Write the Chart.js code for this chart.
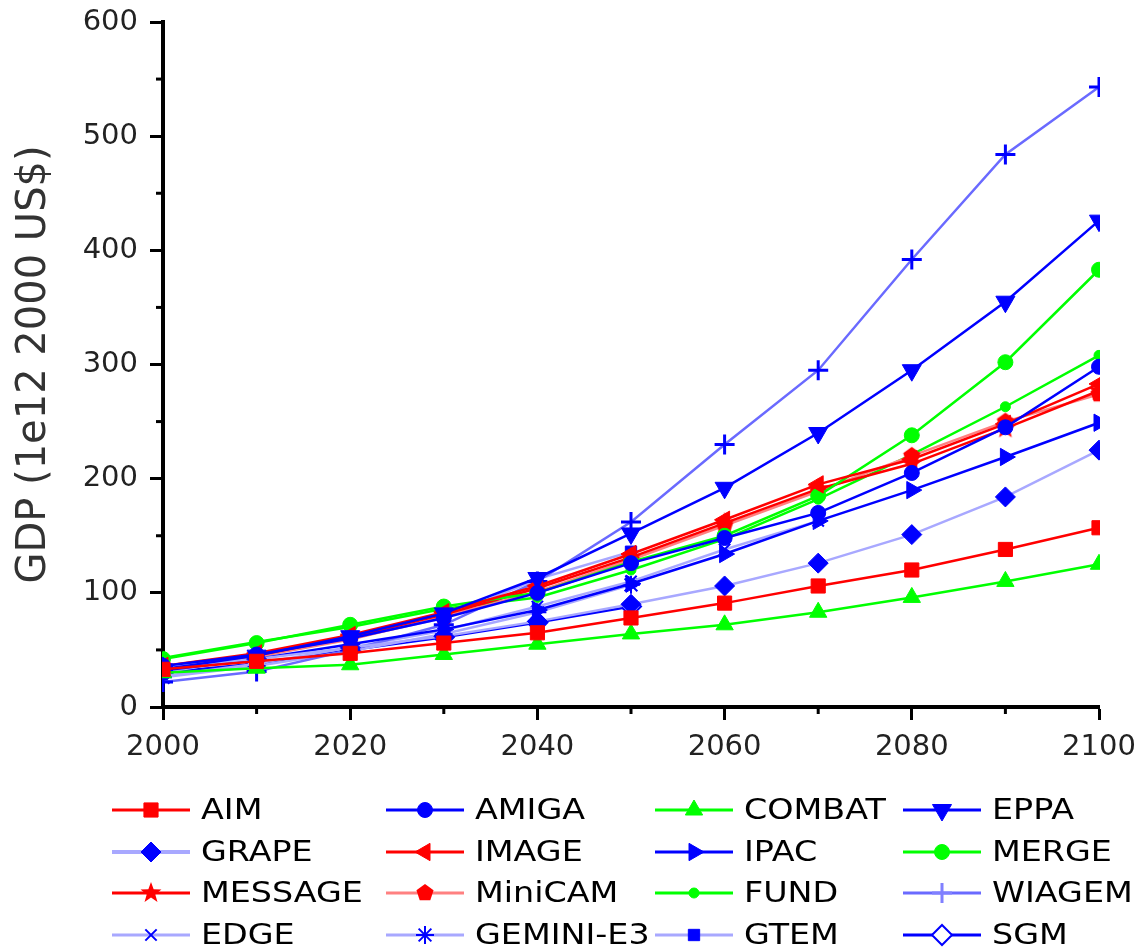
<!DOCTYPE html>
<html>
<head>
<meta charset="utf-8">
<script src="https://cdn.jsdelivr.net/npm/chart.js@4.4.1/dist/chart.umd.min.js"></script>
<style>
  html, body { margin: 0; padding: 0; background: #fff; }
  #wrap { width: 1137px; height: 950px; }
</style>
</head>
<body>
<div id="wrap"><canvas id="graphGdp" width="1137" height="950"></canvas></div>
<script>
// years on the x axis
var years = [2000, 2010, 2020, 2030, 2040, 2050, 2060, 2070, 2080, 2090, 2100];

// tick values
var xTickValues = [2000, 2020, 2040, 2060, 2080, 2100];
var xMinorTicks = [2010, 2030, 2050, 2070, 2090];
var yTickValues = [0, 100, 200, 300, 400, 500, 600];
var yMinorTicks = [50, 150, 250, 350, 450, 550];

var models = ['AIM', 'AMIGA', 'COMBAT', 'EPPA', 'GRAPE', 'IMAGE', 'IPAC', 'MERGE',
  'MESSAGE', 'MiniCAM', 'FUND', 'WIAGEM', 'EDGE', 'GEMINI-E3', 'GTEM', 'SGM'];

// GDP (1e12 2000 US$)
var gdpAIM     = [33, 40, 47, 56, 65, 78, 91, 106, 120, 138, 157];
var gdpAMIGA   = [36, 46, 60, 78, 100, 126, 148, 170, 205, 245, 298];
var gdpCOMBAT  = [30, 34, 37, 46, 55, 64, 72, 83, 96, 110, 125];
var gdpEPPA    = [33, 45, 62, 82, 113, 152, 192, 240, 295, 355, 426];
var gdpGRAPE   = [35, 42, 52, 62, 75, 90, 106, 126, 151, 184, 225];
var gdpIMAGE   = [36, 47, 63, 83, 106, 134, 164, 195, 217, 248, 283];
var gdpIPAC    = [32, 42, 55, 68, 85, 108, 134, 163, 190, 219, 249];
var gdpMERGE   = [42, 56, 72, 88, 100, 127, 150, 185, 238, 302, 383];
var gdpMESSAGE = [34, 45, 61, 81, 104, 131, 161, 191, 213, 244, 277];
var gdpMiniCAM = [33, 44, 59, 79, 101, 129, 159, 189, 220, 250, 274];
var gdpFUND    = [43, 57, 70, 86, 96, 120, 147, 182, 221, 263, 308];
var gdpWIAGEM  = [22, 31, 50, 72, 110, 162, 230, 295, 392, 484, 543];
var gdpEDGE    = [27, 38, 52, 67, 88, 110, 138, 163];
var gdpGEMINI  = [26, 36, 49, 64, 83, 107];
var gdpGTEM    = [30, 44, 60, 78, 112, 136];
var gdpSGM     = [30, 38, 50, 61, 74, 88];

var gdpValues = [gdpAIM, gdpAMIGA, gdpCOMBAT, gdpEPPA, gdpGRAPE, gdpIMAGE, gdpIPAC, gdpMERGE,
  gdpMESSAGE, gdpMiniCAM, gdpFUND, gdpWIAGEM, gdpEDGE, gdpGEMINI, gdpGTEM, gdpSGM];

// small canvas markers for shapes chart.js does not have
function makeMarker(kind, color) {
  var c = document.createElement('canvas');
  c.width = 22; c.height = 22;
  var g = c.getContext('2d');
  g.fillStyle = color;
  g.beginPath();
  if (kind === 'star') {
    for (var i = 0; i < 10; i++) {
      var r = i % 2 === 0 ? 11 : 4.5;
      var a = -Math.PI / 2 + i * Math.PI / 5;
      g.lineTo(11 + r * Math.cos(a), 11 + r * Math.sin(a));
    }
  } else {
    for (var j = 0; j < 5; j++) {
      var b = -Math.PI / 2 + j * 2 * Math.PI / 5;
      g.lineTo(11 + 9 * Math.cos(b), 11 + 9 * Math.sin(b));
    }
  }
  g.closePath();
  g.fill();
  return c;
}
var starRed = makeMarker('star', '#ff0000');
var pentRed = makeMarker('pentagon', '#ff0000');

var styles = [
  {line: '#ff0000', point: '#ff0000', shape: 'rect', r: 10},
  {line: '#0000ff', point: '#0000ff', shape: 'circle', r: 7.5},
  {line: '#00ff00', point: '#00ff00', shape: 'triangle', r: 10},
  {line: '#0000ff', point: '#0000ff', shape: 'triangle', r: 11, rot: 180},
  {line: '#a8a8ff', point: '#0000ff', shape: 'rectRot', r: 10, lw: 4},
  {line: '#ff0000', point: '#ff0000', shape: 'triangle', r: 10, rot: -90},
  {line: '#0000ff', point: '#0000ff', shape: 'triangle', r: 10, rot: 90},
  {line: '#00ff00', point: '#00ff00', shape: 'circle', r: 7.5},
  {line: '#ff0000', point: '#ff0000', shape: starRed, r: 10},
  {line: '#ff8080', point: '#ff0000', shape: pentRed, r: 10},
  {line: '#00ff00', point: '#00ff00', shape: 'circle', r: 5},
  {line: '#6a6aff', point: '#0000ff', shape: 'cross', r: 10, bw: 3, legendPoint: '#8080ff'},
  {line: '#a8a8ff', point: '#0000ff', shape: 'crossRot', r: 8, bw: 2},
  {line: '#a8a8ff', point: '#0000ff', shape: 'star', r: 9, bw: 2},
  {line: '#a8a8ff', point: '#0000ff', shape: 'rect', r: 8},
  {line: '#0000ff', point: '#0000ff', shape: 'rectRot', r: 10, bw: 2, fill: '#ffffff'}
];

var datasets = models.map(function (name, i) {
  var s = styles[i];
  return {
    label: name,
    data: gdpValues[i].map(function (v, k) { return {x: years[k], y: v}; }),
    borderColor: s.line,
    borderWidth: 2.5,
    pointStyle: s.shape,
    pointRotation: s.rot || 0,
    pointRadius: s.r,
    pointBackgroundColor: s.fill || s.point,
    pointBorderColor: s.point,
    pointBorderWidth: s.bw || 1,
    legendLineWidth: s.lw || 3,
    legendPointColor: s.legendPoint || s.point,
    clip: 1,
    fill: false,
    tension: 0
  };
});

// minor ticks on both axes
var minorTicks = {
  id: 'minorTicks',
  afterDraw: function (chart) {
    var ctx = chart.ctx, area = chart.chartArea;
    ctx.save();
    ctx.strokeStyle = '#000';
    ctx.lineWidth = 3;
    yMinorTicks.forEach(function (v) {
      var py = chart.scales.y.getPixelForValue(v);
      ctx.beginPath(); ctx.moveTo(area.left - 7, py); ctx.lineTo(area.left, py); ctx.stroke();
    });
    xMinorTicks.forEach(function (v) {
      var px = chart.scales.x.getPixelForValue(v);
      ctx.beginPath(); ctx.moveTo(px, area.bottom); ctx.lineTo(px, area.bottom + 7); ctx.stroke();
    });
    ctx.restore();
  }
};

// legend laid out as a 4 x 4 grid
var gridLegend = {
  id: 'gridLegend',
  afterDraw: function (chart) {
    var ctx = chart.ctx;
    var colX = [112, 386, 655, 903];
    var rowY = [810, 852, 893, 935];
    chart.data.datasets.forEach(function (ds, i) {
      var x = colX[i % 4], y = rowY[Math.floor(i / 4)];
      ctx.save();
      ctx.strokeStyle = ds.borderColor;
      ctx.lineWidth = ds.legendLineWidth;
      ctx.beginPath(); ctx.moveTo(x, y); ctx.lineTo(x + 78, y); ctx.stroke();
      ctx.fillStyle = ds.pointBackgroundColor;
      ctx.strokeStyle = ds.legendPointColor;
      if (ds.pointBackgroundColor !== '#ffffff') ctx.fillStyle = ds.legendPointColor;
      ctx.lineWidth = ds.pointBorderWidth;
      Chart.helpers.drawPoint(ctx, {
        pointStyle: ds.pointStyle, rotation: ds.pointRotation,
        radius: ds.pointRadius, borderWidth: ds.pointBorderWidth
      }, x + 39, y);
      ctx.translate(x + 89, y);
      ctx.scale(1.15, 1);
      ctx.fillStyle = '#000';
      ctx.font = '29px "DejaVu Sans"';
      ctx.textBaseline = 'middle';
      ctx.fillText(ds.label, 0, 1);
      ctx.restore();
    });
  }
};

var ctx = document.getElementById('graphGdp');
new Chart(ctx, {
  type: 'line',
  data: { datasets: datasets },
  plugins: [minorTicks, gridLegend],
  options: {
    responsive: false,
    animation: false,
    events: [],
    layout: { padding: { top: 22, right: 38, left: 0, bottom: 0 } },
    plugins: { legend: { display: false }, tooltip: { enabled: false } },
    scales: {
      x: {
        type: 'linear',
        min: 2000,
        max: 2100,
        afterBuildTicks: function (scale) {
          scale.ticks = xTickValues.map(function (v) { return {value: v}; });
        },
        afterFit: function (scale) {
          scale.height = 243;
          scale.paddingLeft = 0;
          scale.paddingRight = 0;
        },
        border: { display: true, color: '#000', width: 4 },
        grid: { drawOnChartArea: false, drawTicks: true, tickLength: 13, tickWidth: 3, tickColor: '#000' },
        ticks: {
          color: '#222',
          font: { family: '"DejaVu Sans"', size: 29 },
          padding: 10,
          maxRotation: 0,
          callback: function (v) { return String(v); }
        }
      },
      y: {
        min: 0,
        max: 600,
        afterBuildTicks: function (scale) {
          scale.ticks = yTickValues.map(function (v) { return {value: v}; });
        },
        afterFit: function (scale) {
          scale.width = 163;
          scale.paddingTop = 0;
          scale.paddingBottom = 0;
        },
        border: { display: true, color: '#000', width: 4 },
        grid: { drawOnChartArea: false, drawTicks: true, tickLength: 13, tickWidth: 3, tickColor: '#000' },
        ticks: {
          color: '#222',
          font: { family: '"DejaVu Sans"', size: 29 },
          padding: 12
        },
        title: {
          display: true,
          text: 'GDP (1e12 2000 US$)',
          color: '#333',
          font: { family: '"DejaVu Sans"', size: 40 },
          padding: { top: 11, bottom: 0 }
        }
      }
    }
  }
});
</script>
</body>
</html>
